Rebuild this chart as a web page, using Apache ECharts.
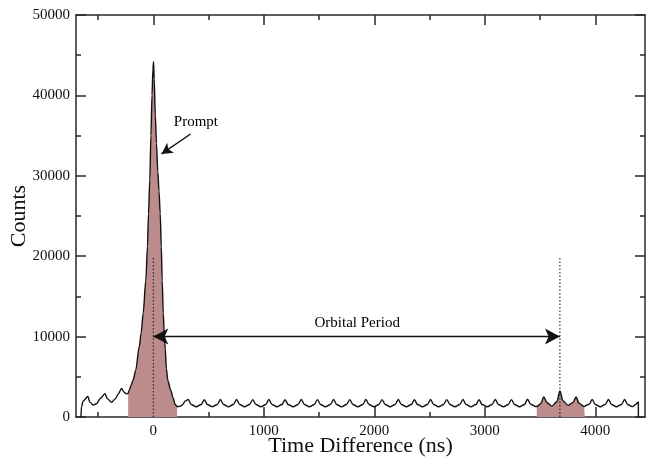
<!DOCTYPE html>
<html>
<head>
<meta charset="utf-8">
<script src="https://cdn.jsdelivr.net/npm/echarts@6/dist/echarts.min.js"></script>
<style>
  html, body { margin: 0; padding: 0; background: #ffffff; }
  #chart { width: 647px; height: 460px; }
</style>
</head>
<body>
<div id="chart"></div>
<script>
// Coincidence timing spectrum: counts vs. time difference (ns)
const spectrum = [
  [-655, 0], [-650, 1300], [-635, 2000], [-592, 2550], [-575, 1850], [-545, 1470],
  [-515, 1650], [-480, 2300], [-438, 2900], [-415, 2250], [-378, 1820], [-345, 2250],
  [-315, 2900], [-288, 3550], [-265, 3100], [-245, 2880], [-228, 2950],
  // prompt peak
  [-219, 3300], [-200, 4000], [-183, 4600], [-160, 5800], [-128, 8700], [-110, 10500],
  [-92, 12900], [-68, 17000], [-53, 21200], [-44, 25300], [-32, 29500], [-22, 35000],
  [-12, 40000], [-4, 43200], [2, 44200], [8, 42000], [18, 37500], [29, 34000],
  [40, 30500], [52, 28000], [62, 25300], [72, 21200], [80, 17000], [90, 12900],
  [98, 10400], [108, 8500], [118, 6000], [132, 4500], [156, 3400], [178, 2400],
  [198, 1550], [215, 1300],
  // random-coincidence background
  [240, 1320], [262, 1500], [290, 2000],
  [315, 2180], [343, 1560], [388, 1270], [433, 1560],
  [461, 2150], [489, 1560], [534, 1290], [579, 1560],
  [607, 2180], [635, 1560], [680, 1260], [725, 1560],
  [753, 2170], [781, 1550], [826, 1270], [871, 1560],
  [900, 2160], [928, 1560], [973, 1280], [1018, 1560],
  [1046, 2180], [1074, 1560], [1119, 1270], [1164, 1560],
  [1192, 2150], [1220, 1550], [1265, 1280], [1310, 1560],
  [1339, 2170], [1367, 1560], [1412, 1270], [1457, 1560],
  [1485, 2160], [1513, 1560], [1558, 1280], [1603, 1560],
  [1631, 2180], [1659, 1560], [1704, 1260], [1749, 1560],
  [1778, 2160], [1806, 1560], [1851, 1280], [1896, 1560],
  [1924, 2170], [1952, 1550], [1997, 1270], [2042, 1560],
  [2070, 2160], [2098, 1560], [2143, 1280], [2188, 1560],
  [2217, 2180], [2245, 1560], [2290, 1270], [2335, 1560],
  [2363, 2150], [2391, 1550], [2436, 1280], [2481, 1560],
  [2509, 2170], [2537, 1560], [2582, 1270], [2627, 1560],
  [2656, 2160], [2684, 1560], [2729, 1280], [2774, 1560],
  [2802, 2180], [2830, 1560], [2875, 1260], [2920, 1560],
  [2948, 2150], [2976, 1550], [3021, 1280], [3066, 1560],
  [3095, 2170], [3123, 1560], [3168, 1270], [3213, 1560],
  [3241, 2160], [3269, 1560], [3314, 1280], [3359, 1560],
  [3387, 2200], [3415, 1580], [3460, 1300], [3470, 1310], [3505, 1640],
  // one orbit later
  [3534, 2500], [3562, 1800], [3607, 1350], [3652, 1900],
  [3680, 3250], [3708, 2000], [3753, 1450], [3798, 1800],
  [3826, 2480], [3854, 1700], [3899, 1300], [3905, 1300], [3944, 1580],
  [3972, 2170], [4000, 1560], [4045, 1280], [4090, 1560],
  [4119, 2180], [4147, 1560], [4192, 1270], [4237, 1560],
  [4265, 2170], [4293, 1560], [4338, 1290], [4365, 1550], [4390, 1880], [4390, 0]
];

// integration windows (shaded)
const promptWindow = [-228, 215];
const orbitWindow = [3470, 3905];

// orbital period marker
const orbitalPeriod = 3680;
const markerTop = 20000;
const arrowLevel = 10000;

// annotations: [text, x, y]
const notes = [
  ['Prompt', 385, 36700],
  ['Orbital Period', 1845, 11700]
];
const promptArrow = [[337, 35200], [74, 32720]];

const xRange = [-700, 4450];
const xMajorTicks = [0, 1000, 2000, 3000, 4000];
const xMinorTicks = [-500, 500, 1500, 2500, 3500];
const yRange = [0, 50000];
const yStep = 10000;

const serif = 'Liberation Serif';
const ink = '#111';

function windowed(range) {
  return spectrum.filter(p => p[0] >= range[0] && p[0] <= range[1]);
}

function xAxisDef(position, ticks, len, withLabels, withLine) {
  return {
    type: 'value', min: xRange[0], max: xRange[1], position: position,
    splitLine: { show: false },
    axisLine: { show: withLine, onZero: false, lineStyle: { color: '#2a2a2a', width: 1.5 } },
    axisTick: { show: true, inside: true, length: len, customValues: ticks,
                lineStyle: { color: '#2a2a2a', width: 1.5 } },
    axisLabel: withLabels
      ? { show: true, customValues: ticks, fontFamily: serif, fontSize: 15, color: ink,
          margin: 7, formatter: v => String(v) }
      : { show: false },
    name: withLabels ? 'Time Difference (ns)' : '',
    nameLocation: 'middle', nameGap: 18, nameMoveOverlap: false,
    nameTextStyle: { fontFamily: serif, fontSize: 22, color: ink }
  };
}

function yAxisDef(position, withLabels) {
  return {
    type: 'value', position: position, min: yRange[0], max: yRange[1], interval: yStep,
    splitLine: { show: false },
    axisLine: { show: true, onZero: false, lineStyle: { color: '#2a2a2a', width: 1.5 } },
    axisTick: { show: true, inside: true, length: 10, lineStyle: { color: '#2a2a2a', width: 1.5 } },
    minorTick: { show: true, splitNumber: 2, length: 5, lineStyle: { color: '#2a2a2a', width: 1.5 } },
    axisLabel: withLabels
      ? { show: true, fontFamily: serif, fontSize: 15, color: ink, margin: 6,
          formatter: v => String(v) }
      : { show: false },
    name: withLabels ? 'Counts' : '',
    nameLocation: 'middle', nameGap: 46, nameRotate: 90, nameMoveOverlap: false,
    nameTextStyle: { fontFamily: serif, fontSize: 22, color: ink }
  };
}

const shadeColor = '#bb8c8b';

function shadeSeries(range) {
  return {
    type: 'line', xAxisIndex: 0, yAxisIndex: 0,
    data: windowed(range), smooth: 0.3, smoothMonotone: 'x',
    symbol: 'none', lineStyle: { width: 0 },
    areaStyle: { color: shadeColor, opacity: 1 }, silent: true, z: 1
  };
}

const chart = echarts.init(document.getElementById('chart'), null, { renderer: 'canvas' });
chart.setOption({
  animation: false,
  backgroundColor: '#ffffff',
  grid: { left: 76, right: 2, top: 15, bottom: 43, containLabel: false, outerBoundsMode: 'none' },
  xAxis: [
    xAxisDef('bottom', xMajorTicks, 10, true, true),
    xAxisDef('bottom', xMinorTicks, 5, false, false),
    xAxisDef('top', xMajorTicks, 10, false, true),
    xAxisDef('top', xMinorTicks, 5, false, false)
  ],
  yAxis: [yAxisDef('left', true), yAxisDef('right', false)],
  series: [
    shadeSeries(promptWindow),
    shadeSeries(orbitWindow),
    {
      type: 'line', xAxisIndex: 0, yAxisIndex: 0,
      data: spectrum, smooth: 0.3, smoothMonotone: 'x',
      symbol: 'none', lineStyle: { color: '#111', width: 1.4 }, silent: true, z: 3
    },
    {
      // dotted guides at t = 0 and one orbital period
      type: 'line', xAxisIndex: 0, yAxisIndex: 0,
      data: [[0, 0], [0, markerTop], null, [orbitalPeriod, 0], [orbitalPeriod, markerTop]],
      connectNulls: false, symbol: 'none', silent: true, z: 4,
      lineStyle: { color: '#111', width: 1, type: [1.5, 2] },
      markLine: {
        silent: true, animation: false,
        lineStyle: { color: '#111', width: 1.4, type: 'solid' },
        label: { show: false },
        data: [
          [{ coord: [0, arrowLevel], symbol: 'arrow', symbolSize: [12, 15] },
           { coord: [orbitalPeriod, arrowLevel], symbol: 'arrow', symbolSize: [12, 15] }],
          [{ coord: promptArrow[0], symbol: 'none' },
           { coord: promptArrow[1], symbol: 'arrow', symbolSize: [9, 11] }]
        ]
      }
    },
    {
      type: 'scatter', xAxisIndex: 0, yAxisIndex: 0, symbol: 'circle', symbolSize: 1,
      silent: true, z: 5,
      itemStyle: { color: 'rgba(0,0,0,0)' },
      label: { show: true, position: 'inside', fontFamily: serif, fontSize: 15, color: '#000',
               textBorderWidth: 0, opacity: 1, formatter: p => p.data.name },
      labelLayout: { hideOverlap: false },
      data: notes.map(n => ({ name: n[0], value: [n[1], n[2]] }))
    }
  ]
});
</script>
</body>
</html>
